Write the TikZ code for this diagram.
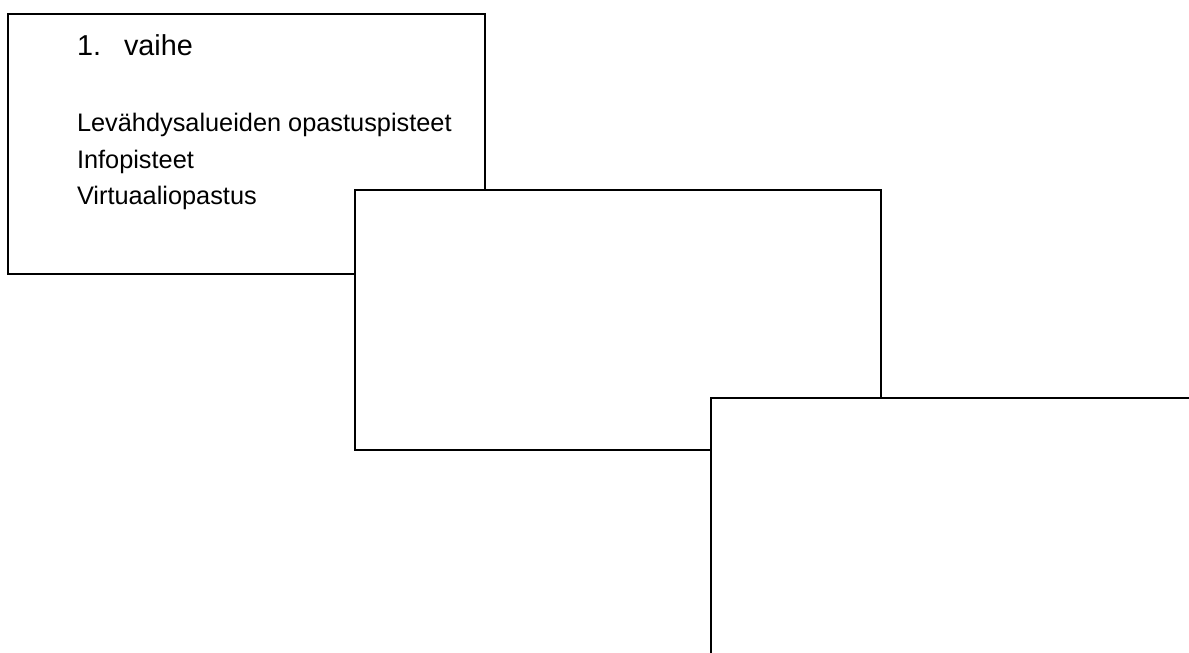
\documentclass[tikz,border=0pt]{standalone}
\usepackage{fontspec}
\setmainfont{Liberation Sans}
\begin{document}
\begin{tikzpicture}[
    x=0.75pt, y=-0.75pt,
    every node/.style={inner sep=0pt, outer sep=0pt},
    stagebox/.style={rectangle, draw, fill=white, line width=0.8pt, anchor=north west,
      minimum width=394.5pt, minimum height=195pt},
    titletext/.style={anchor=base west, font=\fontsize{21.6}{26}\selectfont},
    itemtext/.style={anchor=base west, font=\fontsize{19}{23}\selectfont}
]
  \useasboundingbox (0,0) rectangle (1189,653);
  \clip (0,0) rectangle (1189,653);
  % Stage boxes
  \node[stagebox, minimum width=357.75pt] (box1) at (8,14) {};
  \node[stagebox] (box2) at (355,190) {};
  \node[stagebox] (box3) at (711,398) {};
  % Texts of the first stage
  \node[titletext] (num) at (77,55) {1.};
  \node[titletext] (title) at (124,55) {vaihe};
  \node[itemtext] (item1) at (77,131) {Levähdysalueiden opastuspisteet};
  \node[itemtext] (item2) at (77,168) {Infopisteet};
  \node[itemtext] (item3) at (77,204.5) {Virtuaaliopastus};
\end{tikzpicture}
\end{document}
